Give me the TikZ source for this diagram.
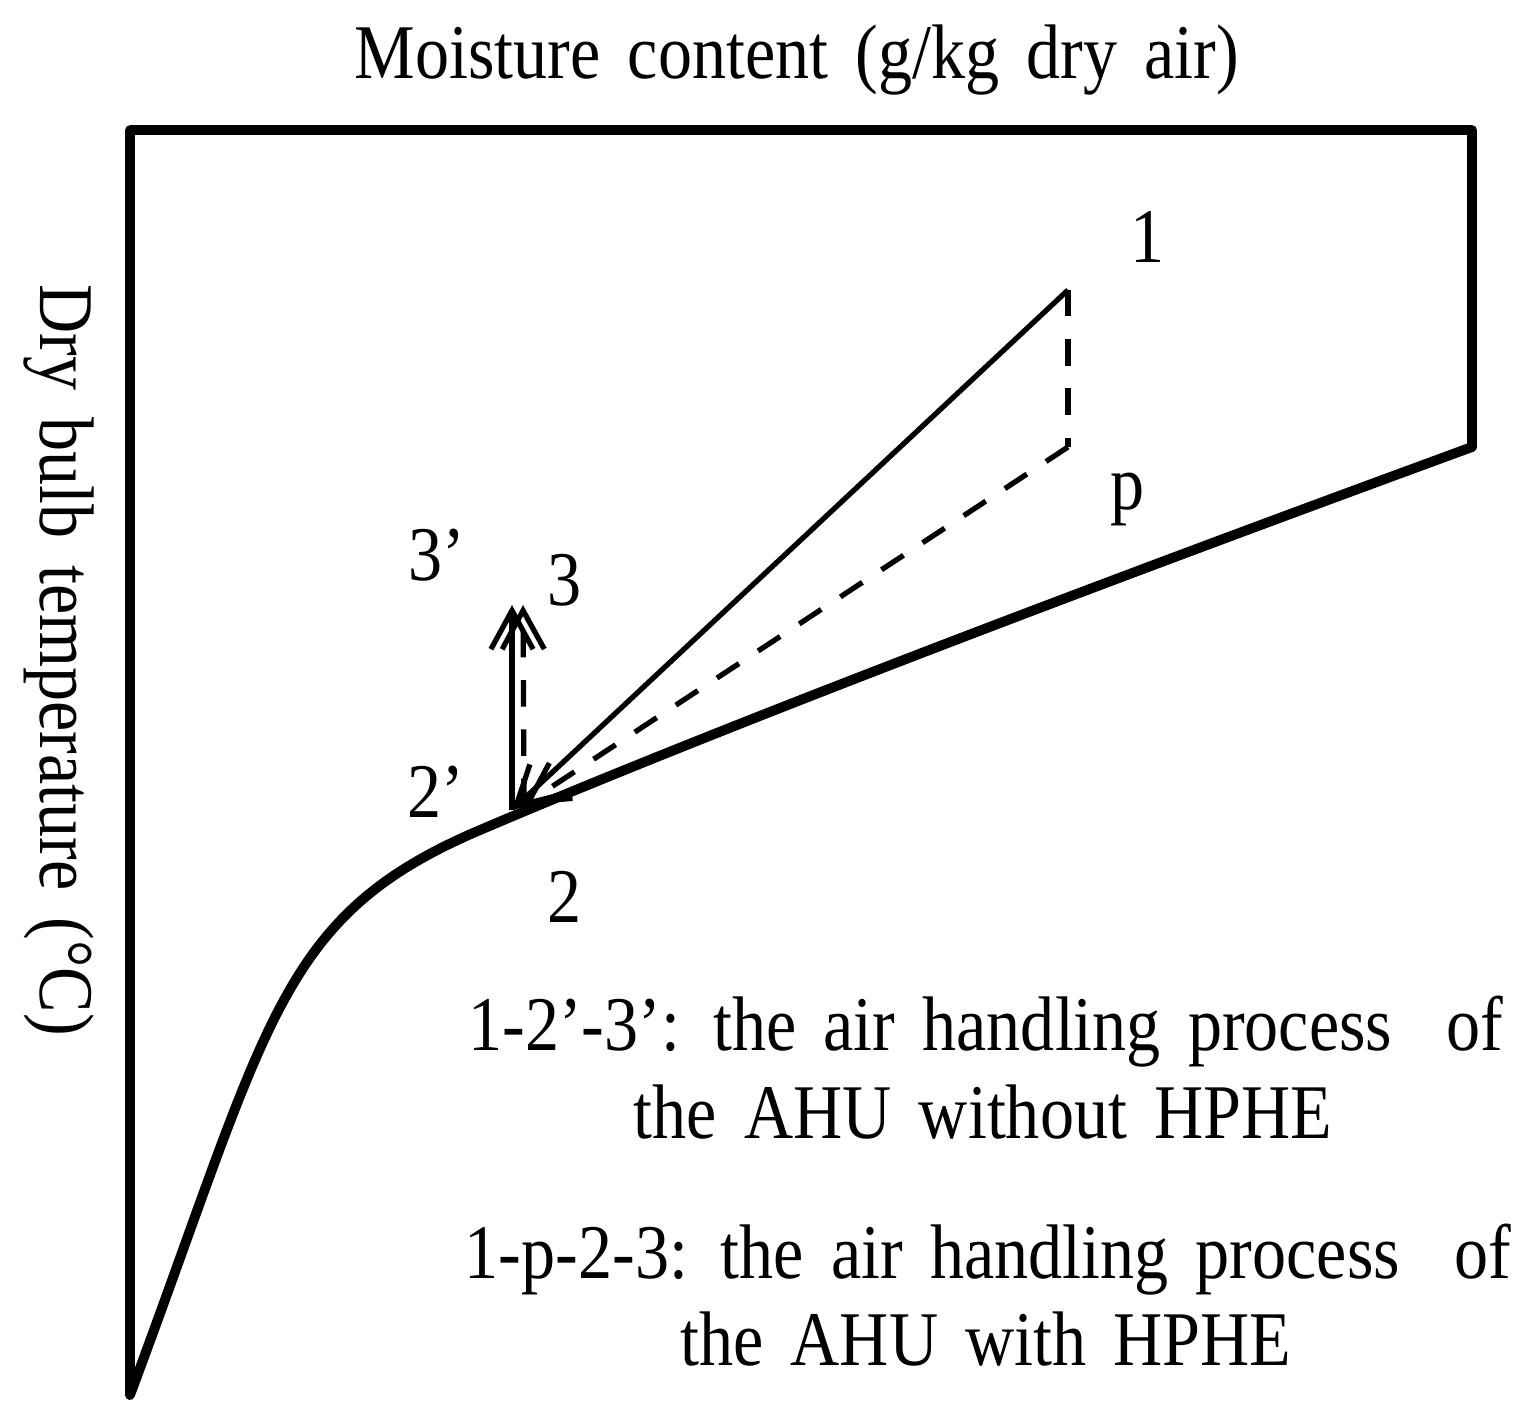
\documentclass[tikz,border=0pt]{standalone}
\usepackage{fontspec}
\setmainfont{Liberation Serif}[FakeStretch=0.88,WordSpace=1.6]
\usetikzlibrary{positioning,arrows.meta}

\begin{document}
\begin{tikzpicture}[x=0.01cm, y=-0.01cm,
  >={Straight Barb[length=11pt,width=12pt]},
  every node/.style={font=\fontsize{22}{26}\selectfont, inner sep=0pt},
  frame/.style={line width=2.8pt, line join=round},
  process/.style={line width=1.5pt},
  hphe/.style={process, dash pattern=on 7.5pt off 6.5pt}]
\useasboundingbox (0,0) rectangle (1537,1426);

\draw[frame] (130,1395) -- (130,130) -- (1472,130) -- (1472,447)
  .. controls (1150,565) and (750,715) .. (480,830)
  .. controls (278,916) and (270,1020) .. (130,1395) -- cycle;

\coordinate (s1) at (1068,290);
\coordinate (sp) at (1068,447);
\coordinate (s2p) at (512,810);
\coordinate (s2) at (524,805);
\coordinate (s3p) at (512,605);
\coordinate (s3) at (523,605);

\node (title) [anchor=base] at (797,78) {Moisture content (g/kg dry air)};
\node (ylabel) [anchor=base, rotate=-90] at (40,660) {Dry bulb temperature (°C)};

\node (lab1) [anchor=base] at (1147,262) {1};
\node (labp) [anchor=base] at (1127,509) {p};
\node (lab3p) [anchor=base] at (437,580) {3’};
\node (lab3) [anchor=base] at (565,605) {3};
\node (lab2p) [anchor=base] at (436,817) {2’};
\node (lab2) [anchor=base] at (565,922) {2};

\node (leg1) [anchor=base] at (986,1050) {1-2’-3’: the air handling process~ of};
\node (leg2) [anchor=base] at (983,1138) {the AHU without HPHE};
\node (leg3) [anchor=base] at (988,1278) {1-p-2-3: the air handling process~ of};
\node (leg4) [anchor=base] at (986,1365) {the AHU with HPHE};

\draw[hphe] (s1) -- (sp);
\draw[hphe, ->] (sp) -- (s2);
\draw[process, ->] (s1) -- (s2p);
\draw[process, ->] (s2p) -- (s3p);
\draw[hphe, ->] (s2) -- (s3);
\end{tikzpicture}
\end{document}
